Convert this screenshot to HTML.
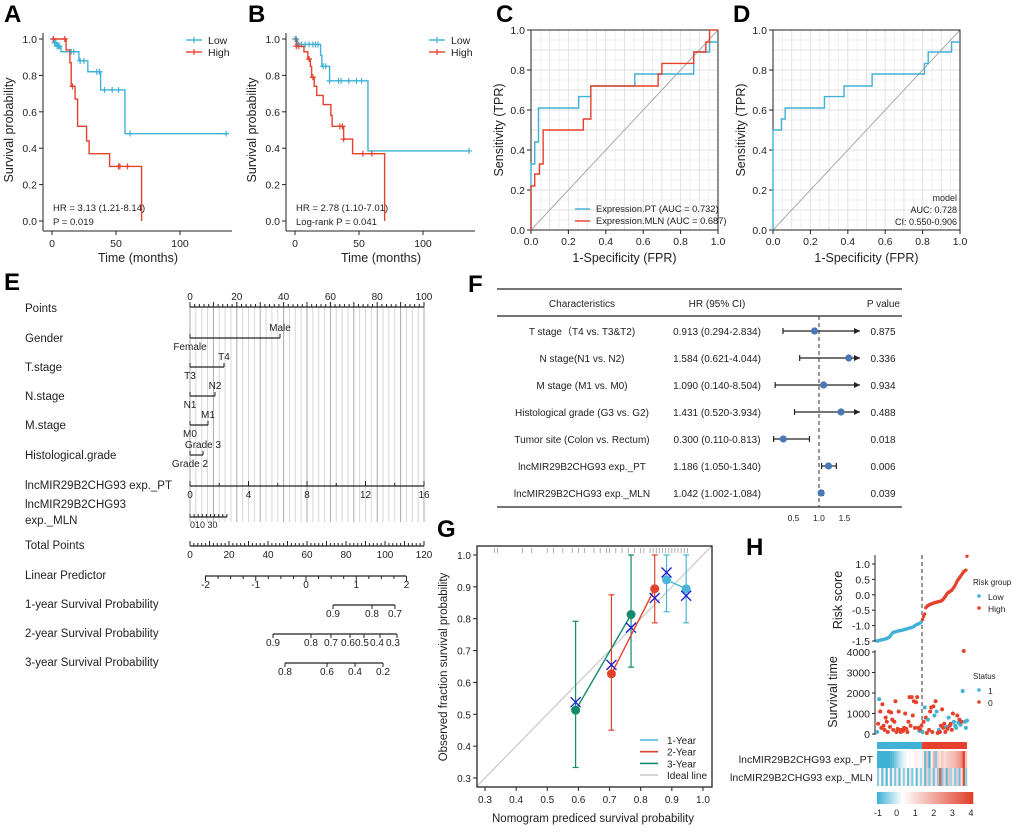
<!DOCTYPE html>
<html><head><meta charset="utf-8"><style>
body{margin:0;background:#fff;}
svg{display:block;font-family:"Liberation Sans",Arial,sans-serif;}
</style></head><body>
<svg id="fig" width="1020" height="832" viewBox="0 0 1020 832" xmlns="http://www.w3.org/2000/svg">
<g font-weight="bold" font-size="24" fill="#000">
<text x="4" y="22">A</text>
<text x="248" y="22">B</text>
<text x="496" y="22">C</text>
<text x="733" y="22">D</text>
<text x="4" y="290">E</text>
<text x="468" y="292">F</text>
<text x="437" y="537">G</text>
<text x="746" y="555">H</text>
</g>
<g id="root"></g>
</svg>
<script>
// ---------------- DATA ----------------
const aLowT=[0,2,4,7,21,28,38,57,136];
const aLowS=[1,0.98,0.96,0.93,0.88,0.82,0.72,0.48,0.48];
const aLowC=[1,2,3,4,5,6,15,17,22,25,35,37,41,47,52,61,136];
const aHighT=[0,11,14,15,18,20,27,29,45,70,70];
const aHighS=[1,0.94,0.87,0.74,0.67,0.52,0.44,0.37,0.30,0.30,0];
const aHighC=[1,10,16,52,53,59];
const bLowT=[0,2,20,21,27,57,136];
const bLowS=[1,0.97,0.91,0.85,0.77,0.385,0.385];
const bLowC=[0,1,2,3,5,8,11,14,16,18,22,24,27,34,36,42,48,52,136];
const bHighT=[0,1,7,10,12,13,15,17,22,28,29,38,45,70,70];
const bHighS=[1,0.96,0.93,0.89,0.85,0.79,0.74,0.69,0.64,0.58,0.52,0.45,0.37,0.37,0];
const bHighC=[1,3,11,14,35,37,38,53,60];
const cPtF=[0,0,0.02,0.02,0.04,0.04,0.255,0.255,0.32,0.32,0.555,0.555,0.87,0.87,0.955,0.955,1];
const cPtT=[0,0.33,0.33,0.44,0.44,0.61,0.61,0.667,0.667,0.72,0.72,0.78,0.78,0.89,0.89,0.94,0.94];
const cMlnF=[0,0,0.02,0.02,0.045,0.045,0.065,0.065,0.28,0.28,0.32,0.32,0.68,0.68,0.70,0.70,0.87,0.87,0.935,0.935,0.955,0.955,1];
const cMlnT=[0,0.22,0.22,0.28,0.28,0.33,0.33,0.5,0.5,0.555,0.555,0.72,0.72,0.78,0.78,0.833,0.833,0.89,0.89,0.94,0.94,1,1];
const dF=[0,0,0.045,0.045,0.065,0.065,0.275,0.275,0.38,0.38,0.53,0.53,0.81,0.81,0.83,0.83,0.955,0.955,1];
const dT=[0,0.5,0.5,0.555,0.555,0.61,0.61,0.667,0.667,0.72,0.72,0.78,0.78,0.833,0.833,0.89,0.89,0.94,0.94];
const fNames=["T stage（T4 vs. T3&T2)","N stage(N1 vs. N2)","M stage (M1 vs. M0)","Histological grade (G3 vs. G2)","Tumor site (Colon vs. Rectum)","lncMIR29B2CHG93 exp._PT","lncMIR29B2CHG93 exp._MLN"];
const fHR=[0.913,1.584,1.090,1.431,0.300,1.186,1.042];
const fLo=[0.294,0.621,0.140,0.520,0.110,1.050,1.002];
const fHi=[2.834,4.044,8.504,3.934,0.813,1.340,1.084];
const fP=["0.875","0.336","0.934","0.488","0.018","0.006","0.039"];
const gPred1=[0.883,0.946], gObs1=[0.922,0.894], gLo1=[0.822,0.787], gHi1=[1,1], gX1=[0.945,0.872];
const gPred2=[0.706,0.845], gObs2=[0.627,0.894], gLo2=[0.45,0.787], gHi2=[0.875,1], gX2=[0.655,0.865];
const gPred3=[0.591,0.769], gObs3=[0.513,0.813], gLo3=[0.333,0.648], gHi3=[0.792,1], gX3=[0.538,0.772];
const gRug=[0.33,0.34,0.42,0.45,0.5,0.52,0.55,0.58,0.6,0.62,0.65,0.67,0.69,0.7,0.72,0.74,0.76,0.78,0.8,0.81,0.83,0.84,0.85,0.86,0.87,0.88,0.89,0.9,0.91,0.92,0.93,0.94,0.95];
const gTicks=[0.3,0.4,0.5,0.6,0.7,0.8,0.9,1.0];
const hRisk=[-1.50,-1.49,-1.48,-1.47,-1.46,-1.46,-1.45,-1.44,-1.43,-1.42,-1.40,-1.38,-1.35,-1.30,-1.25,-1.22,-1.21,-1.20,-1.19,-1.18,-1.17,-1.16,-1.16,-1.15,-1.14,-1.13,-1.12,-1.11,-1.10,-1.09,-1.08,-1.07,-1.06,-1.05,-1.03,-1.00,-0.98,-0.96,-0.95,-0.93,-0.91,-0.88,
-0.80,-0.70,-0.62,-0.42,-0.38,-0.35,-0.33,-0.31,-0.30,-0.28,-0.27,-0.26,-0.25,-0.24,-0.23,-0.22,-0.21,-0.20,-0.18,-0.15,-0.10,-0.05,0.00,0.05,0.08,0.10,0.13,0.15,0.20,0.25,0.30,0.38,0.45,0.50,0.55,0.60,0.65,0.70,0.75,0.78,0.80,1.25];
const hTime=[100,500,1700,1100,300,1450,400,200,800,600,100,1100,350,1050,700,200,600,1600,100,250,1100,200,100,200,150,300,1000,250,100,600,1800,400,1800,900,1600,300,1550,1800,300,150,200,400,
100,600,1300,800,50,700,200,1100,1300,100,1350,900,1600,1100,50,200,100,400,1200,300,500,100,350,250,800,400,500,200,1000,600,400,300,900,550,700,450,600,2100,4050,600,300,650];
const hStatus=[1,0,1,0,0,0,0,0,0,0,0,0,0,0,0,0,0,0,0,0,0,0,0,0,0,0,0,0,0,0,0,0,0,0,0,0,0,0,0,1,0,0,
1,0,1,0,0,1,0,0,0,0,0,1,0,1,0,1,0,0,0,0,0,0,1,0,1,0,0,0,0,1,1,1,0,1,0,1,0,1,0,1,1,1];
const hPT=[-1,-1,-1,-1,-1,-1,-0.9,-0.8,-0.6,-0.4,-0.2,0,0.1,0.2,0.3,0.4,0.3,0.5,0.6,0.5,0.2,
0.8,-0.8,1.5,-1,0.6,1.8,-0.6,1.2,0.9,1.4,1.0,1.2,1.3,1.5,1.6,1.7,2.0,2.2,2.6,4,1.5];
const hMLN=[-0.5,0.5,-0.8,0.6,-0.9,0.4,-0.7,0.6,-0.6,0.7,-0.8,0.5,-0.5,0.6,-0.7,0.8,-0.6,0.3,-0.8,0.6,-0.5,
0.7,-0.8,1.2,-0.6,0.9,-0.7,1.0,-0.5,3.5,-0.6,1.1,-0.8,1.5,-0.4,0.9,-0.6,1.3,-0.7,1.0,3.8,-0.5];

// ---------------- HELPERS ----------------
const NS="http://www.w3.org/2000/svg";
const root=document.getElementById('root');
function mk(tag,attrs,name,parent){
  const el=document.createElementNS(NS,tag);
  for(const k in attrs) el.setAttribute(k,attrs[k]);
  
  
  (parent||root).appendChild(el);
  return el;
}
function txt(x,y,s,name,opt){
  opt=opt||{};
  const el=mk('text',Object.assign({x:x,y:y,'font-size':11,fill:'#222'},opt),name);
  el.textContent=s;
  return el;
}
function line(x1,y1,x2,y2,name,stroke,w,extra){
  return mk('line',Object.assign({x1:x1,y1:y1,x2:x2,y2:y2,stroke:stroke||'#000','stroke-width':w||1},extra||{}),name);
}
const CY='#3fb2d6', RD='#e5412c';

// ---------------- KM panels ----------------
function km(ox,tag){
  const xs=t=>ox+1.28*t, ys=s=>221-182*s;
  const axX=ox-9;
  line(axX,33,axX,231,'y-axis-'+tag,'#222',1);
  line(axX,231,ox+180,231,'x-axis-'+tag,'#222',1);
  [0,0.2,0.4,0.6,0.8,1.0].forEach(v=>{
    line(axX-4,ys(v),axX,ys(v),'y-tick-'+tag,'#222',1);
    txt(axX-6,ys(v)+4,v.toFixed(1),'y-tick-label-'+tag,{'text-anchor':'end','font-size':10.5});
  });
  [0,50,100].forEach(v=>{
    line(xs(v),231,xs(v),235,'x-tick-'+tag,'#222',1);
    txt(xs(v),247,String(v),'x-tick-label-'+tag,{'text-anchor':'middle','font-size':10.5});
  });
  txt(ox+86,262,'Time (months)','x-axis-title-'+tag,{'text-anchor':'middle','font-size':12.5});
  txt(0,0,'Survival probability','y-axis-title-'+tag,{'text-anchor':'middle','font-size':12.5,transform:`translate(${axX-30},130) rotate(-90)`});
  return {xs,ys};
}
function kmCurve(sc,T,S,C,color,name){
  let d=`M${sc.xs(T[0])},${sc.ys(S[0])}`;
  for(let i=1;i<T.length;i++) d+=` H${sc.xs(T[i])} V${sc.ys(S[i])}`;
  mk('path',{d:d,fill:'none',stroke:color,'stroke-width':1.4},name);
  C.forEach(t=>{
    let s=S[0];
    for(let i=0;i<T.length;i++) if(T[i]<=t && !(T[i]===t && i===T.length-1 && S[i]===0)) s=S[i];
    const x=sc.xs(t),y=sc.ys(s);
    mk('path',{d:`M${x-3},${y} H${x+3} M${x},${y-3} V${y+3}`,stroke:color,'stroke-width':1.2},name+'-censor');
  });
}
function kmLegend(ox){
  line(ox+134,40,ox+150,40,'legend-low-line',CY,1.4);
  line(ox+142,37,ox+142,43,'legend-low-mark',CY,1.2);
  txt(ox+156,44,'Low','legend-low-label',{'font-size':10.5});
  line(ox+134,52,ox+150,52,'legend-high-line',RD,1.4);
  line(ox+142,49,ox+142,55,'legend-high-mark',RD,1.2);
  txt(ox+156,56,'High','legend-high-label',{'font-size':10.5});
}
const sa=km(52,'a');
kmCurve(sa,aLowT,aLowS,aLowC,CY,'km-a-low');
kmCurve(sa,aHighT,aHighS,aHighC,RD,'km-a-high');
kmLegend(52);
txt(53,211,'HR = 3.13 (1.21-8.14)','hr-text-a',{'font-size':9.5});
txt(53,225,'P = 0.019','p-text-a',{'font-size':9.5});
const sb=km(295,'b');
kmCurve(sb,bLowT,bLowS,bLowC,CY,'km-b-low');
kmCurve(sb,bHighT,bHighS,bHighC,RD,'km-b-high');
kmLegend(295);
txt(296,211,'HR = 2.78 (1.10-7.01)','hr-text-b',{'font-size':9.5});
txt(296,225,'Log-rank P = 0.041','p-text-b',{'font-size':9.5});

// ---------------- ROC panels ----------------
function roc(x0,tag){
  const W=187,xs=f=>x0+W*f, ys=t=>230-200*t;
  for(let i=1;i<20;i++){
    const v=i/20;
    line(xs(v),30,xs(v),230,'grid-v-'+tag,i%2?'#f0f0f0':'#e2e2e2',1);
    line(x0,ys(v),x0+W,ys(v),'grid-h-'+tag,i%2?'#f0f0f0':'#e2e2e2',1);
  }
  line(xs(0),ys(0),xs(1),ys(1),'diagonal-'+tag,'#aaa',1);
  mk('rect',{x:x0,y:30,width:W,height:200,fill:'none',stroke:'#222','stroke-width':1},'plot-frame-'+tag);
  [0,0.2,0.4,0.6,0.8,1].forEach(v=>{
    line(xs(v),230,xs(v),234,'x-tick-'+tag,'#222',1);
    txt(xs(v),245,v.toFixed(1),'x-tick-label-'+tag,{'text-anchor':'middle','font-size':10.5});
    line(x0-4,ys(v),x0,ys(v),'y-tick-'+tag,'#222',1);
    txt(x0-6,ys(v)+4,v.toFixed(1),'y-tick-label-'+tag,{'text-anchor':'end','font-size':10.5});
  });
  txt(x0+W/2,262,'1-Specificity (FPR)','x-axis-title-'+tag,{'text-anchor':'middle','font-size':12.5});
  txt(0,0,'Sensitivity (TPR)','y-axis-title-'+tag,{'text-anchor':'middle','font-size':12.5,transform:`translate(${x0-28},130) rotate(-90)`});
  return {xs,ys};
}
function rocCurve(sc,F,T,color,name){
  let d='';
  F.forEach((f,i)=>{d+=(i?' L':'M')+sc.xs(f)+','+sc.ys(T[i]);});
  mk('path',{d:d,fill:'none',stroke:color,'stroke-width':1.4},name);
}
const sc=roc(531,'c');
rocCurve(sc,cPtF,cPtT,CY,'roc-pt');
rocCurve(sc,cMlnF,cMlnT,RD,'roc-mln');
line(575,209,590,209,'legend-pt-line',CY,1.4);
txt(596,212,'Expression.PT (AUC = 0.732)','legend-pt-label',{'font-size':9.3});
line(575,221,590,221,'legend-mln-line',RD,1.4);
txt(596,224,'Expression.MLN (AUC = 0.687)','legend-mln-label',{'font-size':9.3});
const sd=roc(773,'d');
rocCurve(sd,dF,dT,CY,'roc-model');
txt(957,201,'model','model-label',{'text-anchor':'end','font-size':9});
txt(957,213,'AUC: 0.728','auc-label',{'text-anchor':'end','font-size':9});
txt(957,225,'CI: 0.550-0.906','ci-label',{'text-anchor':'end','font-size':9});

// ---------------- Nomogram E ----------------
const nx=p=>190+2.34*p;
for(let k=0;k<=40;k++){
  line(nx(k*2.5),307,nx(k*2.5),522,'nomogram-gridline',k%4===0?'#aaa':'#d6d6d6',1);
}
const rows=[["Points",312],["Gender",342],["T.stage",371],["N.stage",400],["M.stage",429],["Histological.grade",459],["lncMIR29B2CHG93 exp._PT",489],["lncMIR29B2CHG93",508],["exp._MLN",524],["Total Points",549],["Linear Predictor",579],["1-year Survival Probability",608],["2-year Survival Probability",637],["3-year Survival Probability",666]];
rows.forEach(r=>txt(25,r[1],r[0],'nomogram-row-label',{'font-size':11.5}));
function scaleAxis(x1,x2,y,ticks,labels,name,down,lblY){
  line(x1,y,x2,y,name+'-axis','#222',1.3);
  ticks.forEach(t=>line(t[0],y,t[0],down?y+t[1]:y-t[1],name+'-tick','#222',1));
  labels.forEach(l=>txt(l[0],lblY,l[1],name+'-label',{'text-anchor':'middle','font-size':10}));
}
let tk=[],lb=[];
for(let p=0;p<=100;p+=2) tk.push([nx(p),p%10===0?5:3]);
for(let p=0;p<=100;p+=20) lb.push([nx(p),String(p)]);
scaleAxis(nx(0),nx(100),307,tk,lb,'points',false,300);
function bar(x2,y,top,bot,name){
  line(190,y,x2,y,name+'-line','#222',1.2);
  line(190,y,190,y-4,name+'-tick','#222',1);
  line(x2,y,x2,y-4,name+'-tick','#222',1);
  txt(x2,y-7,top,name+'-top-label',{'text-anchor':'middle','font-size':10});
  txt(190,y+12,bot,name+'-bottom-label',{'text-anchor':'middle','font-size':10});
}
bar(280,338,'Male','Female','gender');
bar(224,367,'T4','T3','t-stage');
bar(215,396,'N2','N1','n-stage');
bar(208,425,'M1','M0','m-stage');
bar(203,455,'Grade 3','Grade 2','grade');
tk=[];lb=[];
for(let v=0;v<=16;v+=2) tk.push([190+v*234/16,v%4===0?5:3]);
for(let v=0;v<=16;v+=4) lb.push([190+v*234/16,String(v)]);
scaleAxis(190,424,486,tk,lb,'pt-exp',false,498);
tk=[];for(let i=0;i<=9;i++) tk.push([190+i*4.1,3]);
scaleAxis(190,227,517,tk,[],'mln-exp',false,0);
txt(190,528,'010  30','mln-exp-label',{'font-size':9});
tk=[];lb=[];
for(let v=0;v<=120;v+=2) tk.push([190+v*234/120,v%10===0?5:3]);
for(let v=0;v<=120;v+=20) lb.push([190+v*234/120,String(v)]);
scaleAxis(190,424,546,tk,lb,'total-points',false,558);
tk=[];lb=[];
for(let v=-2;v<=2.001;v+=0.25) tk.push([306+v*50.25,Math.abs(v%1)<0.01?5:3]);
[-2,-1,0,1,2].forEach(v=>lb.push([306+v*50.25,String(v)]));
scaleAxis(205,406,576,tk,lb,'linear-predictor',true,588);
scaleAxis(333,395,605,[[333,4],[372,4],[395,4]],[[333,'0.9'],[372,'0.8'],[395,'0.7']],'surv-1y',true,617);
const y2=[273,311,331,350,364,380,397];
scaleAxis(273,397,634,y2.map(a=>[a,4]),[[273,'0.9'],[311,'0.8'],[331,'0.7'],[348,'0.6'],[362,'0.5'],[377,'0.4'],[393,'0.3']],'surv-2y',true,646);
const y3=[[285,'0.8'],[327,'0.6'],[355,'0.4'],[383,'0.2']];
scaleAxis(285,383,663,y3.map(a=>[a[0],4]),y3,'surv-3y',true,675);

// ---------------- Forest F ----------------
const fx=v=>819+(v-1)*51;
line(497,289,902,289,'table-top-rule','#222',1.3);
line(497,316,902,316,'table-header-rule','#222',1.3);
line(497,507,902,507,'table-bottom-rule','#222',1.3);
txt(582,307,'Characteristics','header-characteristics',{'text-anchor':'middle','font-size':10});
txt(717,307,'HR (95% CI)','header-hr',{'text-anchor':'middle','font-size':10});
txt(900,307,'P value','header-p',{'text-anchor':'end','font-size':10});
line(819,316,819,507,'reference-line','#333',1,{'stroke-dasharray':'4,3'});
fHR.forEach((h,i)=>{
  const y=331+i*27;
  txt(582,y+4,fNames[i],'row-name',{'text-anchor':'middle','font-size':10,'font-family':'"Liberation Sans","Noto Sans CJK SC",sans-serif'});
  txt(717,y+4,h.toFixed(3)+' ('+fLo[i].toFixed(3)+'-'+fHi[i].toFixed(3)+')','row-hr',{'text-anchor':'middle','font-size':10});
  txt(883,y+4,fP[i],'row-p',{'text-anchor':'middle','font-size':10});
  const x1=fx(fLo[i]), over=fx(fHi[i])>860, x2=over?860:fx(fHi[i]);
  line(x1,y,x2,y,'ci-line','#222',1.2);
  line(x1,y-3,x1,y+3,'ci-cap','#222',1.2);
  if(over) mk('path',{d:`M${x2},${y} l-6,-3 v6 z`,fill:'#222'},'ci-arrow');
  else line(x2,y-3,x2,y+3,'ci-cap','#222',1.2);
  mk('circle',{cx:fx(h),cy:y,r:3.6,fill:'#4a78b5'},'hr-point');
});
[0.5,1.0,1.5].forEach(v=>txt(fx(v),521,v.toFixed(1),'forest-tick-label',{'text-anchor':'middle','font-size':8.5}));

// ---------------- Calibration G ----------------
const gx=v=>485+(v-0.3)*311.4, gy=v=>778-(v-0.3)*318.6;
mk('clipPath',{id:'gclip'},'g-clip');
mk('rect',{x:477,y:546,width:235,height:241},'g-clip-rect',document.querySelector('#gclip'));
line(gx(0.27),gy(0.27),gx(1.05),gy(1.05),'ideal-line','#ccc',1.3,{'clip-path':'url(#gclip)'});
gRug.forEach(v=>line(gx(v),548,gx(v),553,'rug-tick','#999',0.8));
mk('rect',{x:477,y:546,width:235,height:241,fill:'none',stroke:'#222','stroke-width':1.3},'g-frame');
gTicks.forEach(v=>{
  line(gx(v),787,gx(v),791,'g-x-tick','#222',1);
  txt(gx(v),803,v.toFixed(1),'g-x-tick-label',{'text-anchor':'middle','font-size':10});
  line(473,gy(v),477,gy(v),'g-y-tick','#222',1);
  txt(471,gy(v)+4,v.toFixed(1),'g-y-tick-label',{'text-anchor':'end','font-size':10});
});
txt(593,822,'Nomogram prediced survival probability','g-x-axis-title',{'text-anchor':'middle','font-size':11.5});
txt(0,0,'Observed fraction survival probability','g-y-axis-title',{'text-anchor':'middle','font-size':11.5,transform:'translate(447,667) rotate(-90)'});
function calib(P,O,L,H,X,color,tag){
  mk('path',{d:`M${gx(P[0])},${gy(O[0])} L${gx(P[1])},${gy(O[1])}`,stroke:color,'stroke-width':1.4,fill:'none'},'calib-line-'+tag);
  P.forEach((p,i)=>{
    const x=gx(p);
    line(x,gy(L[i]),x,gy(H[i]),'calib-errorbar-'+tag,color,1.2);
    line(x-3,gy(L[i]),x+3,gy(L[i]),'calib-cap-'+tag,color,1.2);
    line(x-3,gy(H[i]),x+3,gy(H[i]),'calib-cap-'+tag,color,1.2);
    mk('circle',{cx:x,cy:gy(O[i]),r:4.5,fill:color},'calib-point-'+tag);
    const xy=gy(X[i]);
    mk('path',{d:`M${x-5},${xy-5} L${x+5},${xy+5} M${x-5},${xy+5} L${x+5},${xy-5}`,stroke:'#1c1cd8','stroke-width':1.3},'calib-x-'+tag);
  });
}
calib(gPred3,gObs3,gLo3,gHi3,gX3,'#138a6b','3y');
calib(gPred2,gObs2,gLo2,gHi2,gX2,'#e0422c','2y');
calib(gPred1,gObs1,gLo1,gHi1,gX1,'#49b6d6','1y');
[['1-Year','#49b6d6'],['2-Year','#e0422c'],['3-Year','#138a6b'],['Ideal line','#ccc']].forEach((l,i)=>{
  const y=740+i*11.7;
  line(640,y,658,y,'g-legend-line',l[1],1.6);
  txt(667,y+4,l[0],'g-legend-label',{'font-size':10});
});

// ---------------- Risk H ----------------
const n=hRisk.length, hx=i=>877+i*(90/(n-1));
const ry=r=>564-(r-1)*30.8, sy=v=>734-v*82/4000;
line(875,555,875,642,'risk-y-axis','#222',1);
[1.0,0.5,0.0,-0.5,-1.0,-1.5].forEach(v=>{
  line(872,ry(v),875,ry(v),'risk-y-tick','#222',1);
  txt(870,ry(v)+4,v.toFixed(1),'risk-y-tick-label',{'text-anchor':'end','font-size':10.5});
});
txt(0,0,'Risk score','risk-y-title',{'text-anchor':'middle','font-size':12.5,transform:'translate(842,600) rotate(-90)'});
line(875,650,875,735,'surv-y-axis','#222',1);
[0,1000,2000,3000,4000].forEach(v=>{
  line(872,sy(v),875,sy(v),'surv-y-tick','#222',1);
  txt(870,sy(v)+4,String(v),'surv-y-tick-label',{'text-anchor':'end','font-size':10.5});
});
txt(0,0,'Survival time','surv-y-title',{'text-anchor':'middle','font-size':12.5,transform:'translate(837,692) rotate(-90)'});
line(922,555,922,736,'cutoff-line','#555',1.2,{'stroke-dasharray':'4,3'});
hRisk.forEach((r,i)=>{
  mk('circle',{cx:hx(i),cy:ry(r),r:1.7,fill:i<42?CY:RD},'risk-point');
  mk('circle',{cx:hx(i),cy:sy(hTime[i]),r:2,fill:hStatus[i]?CY:RD},'survival-point');
});
txt(973,585,'Risk group','risk-legend-title',{'font-size':8});
mk('circle',{cx:979,cy:596,r:1.8,fill:CY},'risk-legend-low-dot');
txt(988,600,'Low','risk-legend-low',{'font-size':8.5});
mk('circle',{cx:979,cy:608,r:1.8,fill:RD},'risk-legend-high-dot');
txt(988,612,'High','risk-legend-high',{'font-size':8.5});
txt(973,679,'Status','status-legend-title',{'font-size':8});
mk('circle',{cx:979,cy:690,r:1.8,fill:CY},'status-legend-1-dot');
txt(988,694,'1','status-legend-1',{'font-size':8.5});
mk('circle',{cx:979,cy:702,r:1.8,fill:RD},'status-legend-0-dot');
txt(988,706,'0','status-legend-0',{'font-size':8.5});
function hcol(v){
  const lerp=(a,b,t)=>Math.round(a+(b-a)*t);
  let c;
  if(v<0.3){const t=Math.max(0,(v+1)/1.3);c=[lerp(63,255,t),lerp(178,255,t),lerp(214,255,t)];}
  else {const t=Math.min(1,(v-0.3)/3.7);c=[lerp(255,224,t),lerp(255,64,t),lerp(255,42,t)];}
  return `rgb(${c[0]},${c[1]},${c[2]})`;
}
mk('rect',{x:877,y:742,width:45,height:7,fill:CY},'group-bar-low');
mk('rect',{x:922,y:742,width:45,height:7,fill:RD},'group-bar-high');
const cw=90/hPT.length;
hPT.forEach((v,i)=>mk('rect',{x:877+i*cw,y:751,width:cw+0.3,height:17,fill:hcol(v)},'heatmap-pt-cell'));
hMLN.forEach((v,i)=>mk('rect',{x:877+i*cw,y:768,width:cw+0.3,height:18,fill:hcol(v)},'heatmap-mln-cell'));
txt(873,763,'lncMIR29B2CHG93 exp._PT','heatmap-row-pt',{'text-anchor':'end','font-size':10.5});
txt(873,781,'lncMIR29B2CHG93 exp._MLN','heatmap-row-mln',{'text-anchor':'end','font-size':10.5});
for(let i=0;i<60;i++){
  const v=-1+5*i/59;
  mk('rect',{x:877+i*96/60,y:792,width:96/60+0.3,height:12,fill:hcol(v)},'colorbar-segment');
}
[-1,0,1,2,3,4].forEach(v=>txt(878+(v+1)*18.6,816,String(v),'colorbar-label',{'text-anchor':'middle','font-size':9}));
</script>
</body></html>
